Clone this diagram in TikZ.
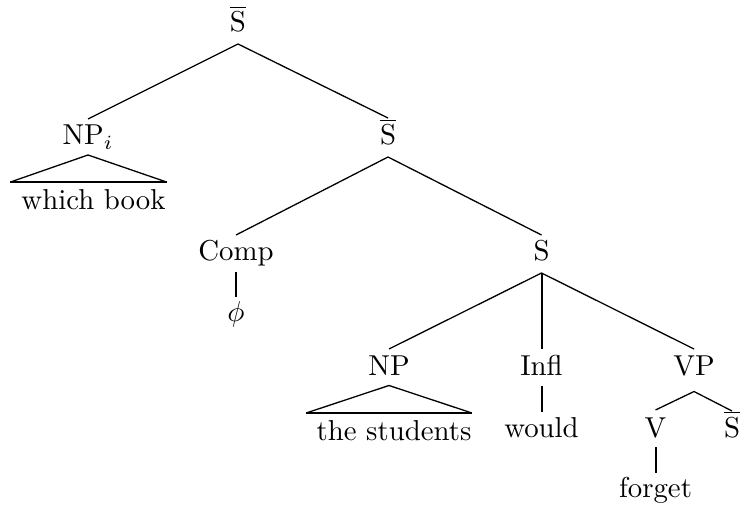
\documentclass[tikz,border=0pt]{standalone}
\usetikzlibrary{calc}
\newcommand\mySbar{$\overline{\mbox{S}}$}
\begin{document}
\begin{tikzpicture}[x=0.3472pt,y=-0.3472pt,
  lab/.style={anchor=base,inner sep=0pt,outer sep=0pt,font=\fontsize{10}{12}\selectfont},
  edge/.style={line width=0.45pt},
  vedge/.style={line width=0.7pt}]
\useasboundingbox (0,0) rectangle (746,514);
% nodes
\node[lab] (s0) at (238,32) {\mySbar};
\node[lab] (npi) at (88,145) {NP$_i$};
\node[lab] (s1) at (388,145) {\mySbar};
\node[lab] (wb) at (93.5,210) {which book};
\node[lab] (comp) at (236,261) {Comp};
\node[lab] (s) at (541.5,261) {S};
\node[lab] (phi) at (236,322) {$\phi$};
\node[lab] (np) at (389,375) {NP};
\node[lab] (infl) at (541.5,375) {Infl};
\node[lab] (vp) at (694,375) {VP};
\node[lab] (ts) at (394,441) {the students};
\node[lab] (would) at (541.5,437) {would};
\node[lab] (v) at (655.5,437) {V};
\node[lab] (s2) at (732,437) {\mySbar};
\node[lab] (forget) at (655.5,497) {forget};
% edges
\draw[edge] ($(npi.base)+(0,-26)$) -- ($(s0.base)+(0,12)$) -- ($(s1.base)+(0,-27)$);
\draw[edge] ($(comp.base)+(0,-26)$) -- ($(s1.base)+(0,12)$) -- ($(s.base)+(0,-26)$);
\draw[edge] ($(np.base)+(0,-26)$) -- ($(s.base)+(0,12)$) -- ($(vp.base)+(0,-26)$);
\draw[vedge] ($(s.base)+(0,12)$) -- ($(infl.base)+(0,-26)$);
\draw[vedge] ($(comp.base)+(0,11)$) -- ($(phi.base)+(0,-25)$);
\draw[vedge] ($(infl.base)+(0,11)$) -- ($(would.base)+(0,-25)$);
\draw[edge] ($(v.base)+(0,-27)$) -- ($(vp.base)+(0,16.5)$) -- ($(s2.base)+(0,-26)$);
\draw[vedge] ($(v.base)+(0,10)$) -- ($(forget.base)+(0,-24)$);
% triangles
\coordinate (wbL) at ($(wb.base west)+(-11,-28)$);
\coordinate (wbR) at ($(wb.base east)+(1,-28)$);
\draw[edge] (wbL) -- ($(npi.base)+(0,10)$) -- (wbR);
\draw[vedge] (wbL) -- (wbR);
\coordinate (tsL) at ($(ts.base west)+(-10.5,-28)$);
\coordinate (tsR) at ($(ts.base east)+(0.5,-28)$);
\draw[edge] (tsL) -- ($(np.base)+(0,10.5)$) -- (tsR);
\draw[vedge] (tsL) -- (tsR);
\end{tikzpicture}
\end{document}
